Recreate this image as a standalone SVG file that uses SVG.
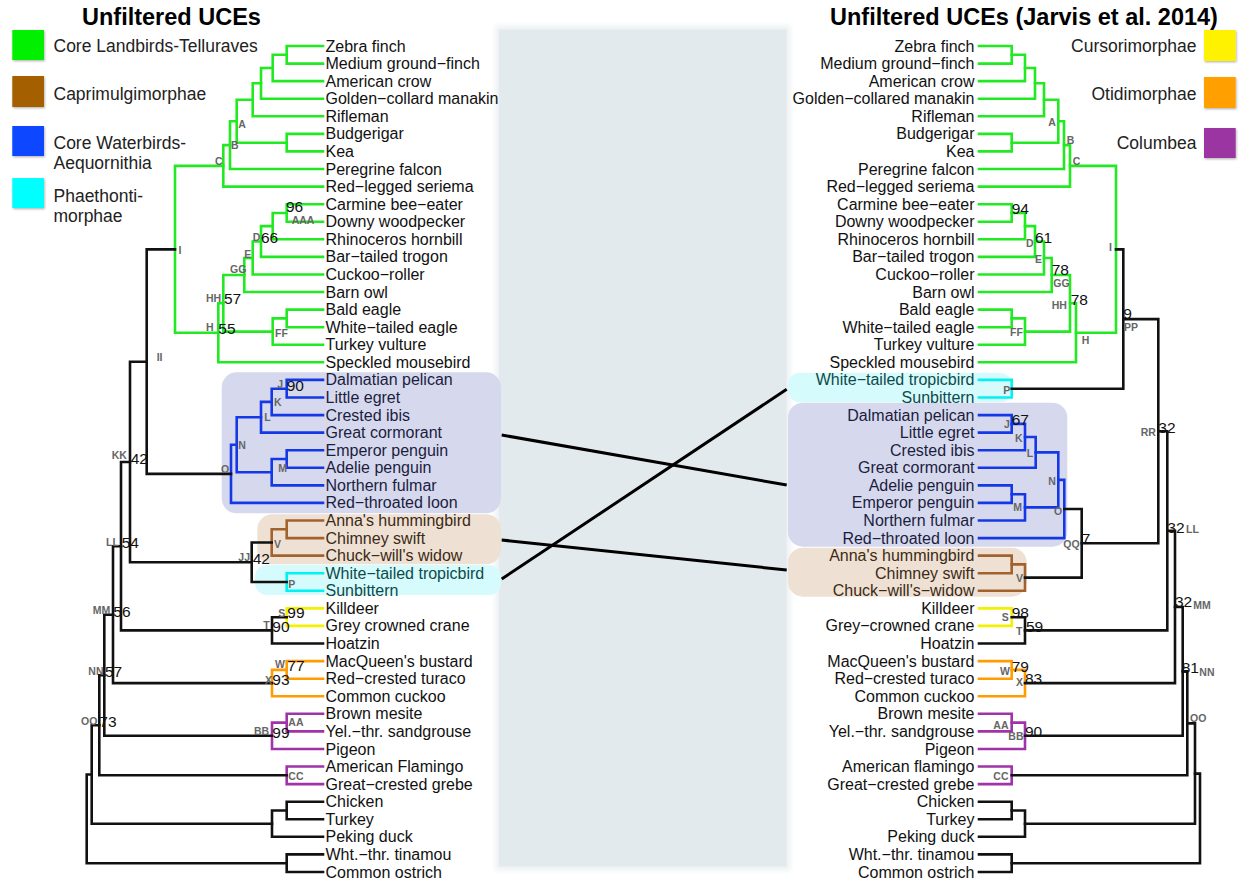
<svg xmlns="http://www.w3.org/2000/svg" width="1243" height="883" viewBox="0 0 1243 883">
  <defs>
    <filter id="shadow" x="-20%" y="-20%" width="150%" height="150%">
      <feDropShadow dx="0.8" dy="1.2" stdDeviation="1" flood-color="#000" flood-opacity="0.3"/>
    </filter>
    <filter id="halo" x="-5%" y="-5%" width="110%" height="110%">
      <feGaussianBlur stdDeviation="2.5"/>
    </filter>
  </defs>
  <style>
    .title { font: bold 23.5px "Liberation Sans", Arial, sans-serif; fill: #000; }
    .leg { font: 17.5px "Liberation Sans", Arial, sans-serif; fill: #222; }
    .lf { font: 16px "Liberation Sans", Arial, sans-serif; fill: #111; }
    .end { text-anchor: end; }
    .nl { font: bold 10.5px "Liberation Sans", Arial, sans-serif; fill: #666; }
    .bs { font: 15.5px "Liberation Sans", Arial, sans-serif; fill: #111; }
    .br { fill: none; stroke-width: 2.6; stroke-linejoin: miter; stroke-linecap: square; }
    .g { stroke: #22ea22; }
    .k { stroke: #111; }
    .b { stroke: #1438e6; }
    .bn { stroke: #a2622e; }
    .c { stroke: #00f2f2; }
    .y { stroke: #f2f200; }
    .o { stroke: #ff9c00; }
    .p { stroke: #a033a8; }
    .tc { fill: #0f4a4a; }
    .tb { fill: #1c1d3e; }
    .tn { fill: #3c2a16; }
    .conn { stroke: #000; stroke-width: 3; fill: none; }
  </style>

  <rect width="1243" height="883" fill="#fff"/>

  <!-- central panel between the two trees -->
  <g id="panel">
    <rect x="495" y="25.5" width="295.5" height="845" fill="#eef1f3" filter="url(#halo)"/>
    <rect x="499" y="29.5" width="287.5" height="837" fill="#e3eaed"/>
  </g>

  <!-- titles -->
  <text class="title" x="82" y="25">Unfiltered UCEs</text>
  <text class="title" x="830" y="25">Unfiltered UCEs (Jarvis et al. 2014)</text>

  <!-- legends -->
  <g id="legend-left">
    <rect x="12.3" y="30" width="31.7" height="30" fill="#00f000" filter="url(#shadow)"/>
    <rect x="12.3" y="76" width="31.7" height="31" fill="#a45f00" filter="url(#shadow)"/>
    <rect x="12.3" y="126" width="31.7" height="30" fill="#0747ff" filter="url(#shadow)"/>
    <rect x="12.3" y="178" width="31.7" height="30" fill="#00ffff" filter="url(#shadow)"/>
    <text class="leg" x="53.5" y="52">Core Landbirds-Telluraves</text>
    <text class="leg" x="53.5" y="99.5">Caprimulgimorphae</text>
    <text class="leg" x="53.5" y="148.5">Core Waterbirds-</text>
    <text class="leg" x="53.5" y="168.5">Aequornithia</text>
    <text class="leg" x="53.5" y="201.5">Phaethonti-</text>
    <text class="leg" x="53.5" y="222">morphae</text>
  </g>
  <g id="legend-right">
    <rect x="1204" y="30" width="31.7" height="31" fill="#fff200" filter="url(#shadow)"/>
    <rect x="1204" y="77" width="31.7" height="31" fill="#ffa000" filter="url(#shadow)"/>
    <rect x="1204" y="128" width="31.7" height="30" fill="#9b36a2" filter="url(#shadow)"/>
    <text class="leg end" x="1196.5" y="52">Cursorimorphae</text>
    <text class="leg end" x="1196.5" y="99.5">Otidimorphae</text>
    <text class="leg end" x="1196.5" y="149">Columbea</text>
  </g>

  <!-- clade highlight boxes -->
  <g id="boxes">
    <rect x="221.7" y="372.3" width="279.3" height="141" rx="15" fill="#d6d9ee"/>
    <rect x="257.3" y="514.3" width="243.7" height="50" rx="15" fill="#eee1d3"/>
    <rect x="255" y="565" width="246" height="30" rx="12" fill="#d6fbfd"/>
    <rect x="788" y="372.7" width="223.7" height="29.6" rx="12" fill="#d6fbfd"/>
    <rect x="788" y="402.7" width="279.3" height="144" rx="15" fill="#d6d9ee"/>
    <rect x="788" y="547.7" width="238.7" height="49" rx="15" fill="#eee1d3"/>
  </g>

  <!-- left tree -->
  <g id="left-tree">
    <g id="left-telluraves" class="br g">
      <path d="M323 46 H286.7 V63.6 H323"/>
      <path d="M286.7 54.8 H272.7 V81.1 H323"/>
      <path d="M272.7 68 H261 V98.7 H323"/>
      <path d="M261 83.3 H252.7 V116.3 H323"/>
      <path d="M323 133.9 H286.7 V151.4 H323"/>
      <path d="M252.7 99.8 H236.7 V142.7 H286.7"/>
      <path d="M236.7 121.2 H230 V169 H323"/>
      <path d="M230 145.1 H223.3 V186.6 H323"/>
      <path d="M323 204.2 H286.7 V221.7 H323"/>
      <path d="M286.7 213 H272.7 V239.3 H323"/>
      <path d="M272.7 226.1 H261 V256.9 H323"/>
      <path d="M261 241.5 H252.7 V274.5 H323"/>
      <path d="M252.7 258 H244.3 V292 H323"/>
      <path d="M323 309.6 H286.7 V327.2 H323"/>
      <path d="M286.7 318.4 H272.7 V344.8 H323"/>
      <path d="M244.3 275 H223.3 V331.6 H272.7"/>
      <path d="M223.3 303.3 H218.3 V362.3 H323"/>
      <path d="M223.3 165.9 H175 V332.8 H218.3"/>
    </g>
    <g id="left-aequornithia" class="br b">
      <path d="M323 379.9 H286.7 V397.5 H323"/>
      <path d="M286.7 388.7 H271.7 V415.1 H323"/>
      <path d="M271.7 401.9 H261 V432.6 H323"/>
      <path d="M323 450.2 H286.7 V467.8 H323"/>
      <path d="M286.7 459 H271.7 V485.4 H323"/>
      <path d="M261 417.3 H236.7 V472.2 H271.7"/>
      <path d="M236.7 444.8 H231 V502.9 H323"/>
    </g>
    <g id="left-caprimulgimorphae" class="br bn">
      <path d="M323 520.5 H286.7 V538.1 H323"/>
      <path d="M286.7 529.3 H271.7 V555.6 H323"/>
    </g>
    <g id="left-phaethontimorphae" class="br c">
      <path d="M323 573.2 H286.7 V590.8 H323"/>
    </g>
    <g id="left-cursorimorphae" class="br y">
      <path d="M323 608.4 H286.7 V625.9 H323"/>
    </g>
    <g id="left-otidimorphae" class="br o">
      <path d="M323 661.1 H286.7 V678.7 H323"/>
      <path d="M286.7 669.9 H272 V696.2 H323"/>
    </g>
    <g id="left-columbea" class="br p">
      <path d="M323 713.8 H286.7 V731.4 H323"/>
      <path d="M286.7 722.6 H272 V749 H323"/>
      <path d="M323 766.5 H286.7 V784.1 H323"/>
    </g>
    <g id="left-backbone" class="br k">
      <path d="M175 249.4 H146.7 V473.9 H231"/>
      <path d="M271.7 542.5 H251.7 V582 H286.7"/>
      <path d="M146.7 361.7 H130 V562.3 H251.7"/>
      <path d="M286.7 617.2 H272 V643.5 H323"/>
      <path d="M130 462 H121 V630.4 H272"/>
      <path d="M121 546.2 H113 V683.1 H272"/>
      <path d="M113 614.7 H104.3 V735.8 H272"/>
      <path d="M104.3 675.3 H99.3 V775.3 H286.7"/>
      <path d="M323 801.7 H286.7 V819.3 H323"/>
      <path d="M286.7 810.5 H272 V836.8 H323"/>
      <path d="M99.3 725.3 H91.7 V823.7 H272"/>
      <path d="M323 854.4 H286.7 V872 H323"/>
      <path d="M91.7 774.5 H86.7 V863.2 H286.7"/>
    </g>
    <g id="left-node-labels" class="nl">
      <text x="238.3" y="127.5">A</text>
      <text x="231" y="148.8">B</text>
      <text x="215" y="165">C</text>
      <text x="178.6" y="253.8">I</text>
      <text x="291.7" y="223.8">AAA</text>
      <text x="252.7" y="240.8">D</text>
      <text x="244.3" y="257.5">E</text>
      <text x="230" y="273">GG</text>
      <text x="206" y="302">HH</text>
      <text x="206" y="331">H</text>
      <text x="275" y="337">FF</text>
      <text x="156.7" y="360.5">II</text>
      <text x="277.3" y="387.6">J</text>
      <text x="274" y="406">K</text>
      <text x="264.3" y="421.3">L</text>
      <text x="238.3" y="449.3">N</text>
      <text x="278.3" y="472">M</text>
      <text x="221" y="473">O</text>
      <text x="111.7" y="459">KK</text>
      <text x="106" y="545.8">LL</text>
      <text x="238.3" y="560.8">JJ</text>
      <text x="274" y="547.5">V</text>
      <text x="288.3" y="587.5">P</text>
      <text x="92.7" y="613.8">MM</text>
      <text x="278.3" y="616.8">S</text>
      <text x="263.3" y="629.3">T</text>
      <text x="275" y="667.5">W</text>
      <text x="265" y="683.5">X</text>
      <text x="88.3" y="675.1">NN</text>
      <text x="288.3" y="726">AA</text>
      <text x="81" y="724.8">OO</text>
      <text x="254" y="735">BB</text>
      <text x="288.3" y="780">CC</text>
    </g>
    <g id="left-support" class="bs">
      <text x="286" y="212.2">96</text>
      <text x="261" y="242.7">66</text>
      <text x="224" y="304">57</text>
      <text x="218.3" y="334">55</text>
      <text x="286.7" y="390.7">90</text>
      <text x="130.7" y="464">42</text>
      <text x="121.7" y="548.3">54</text>
      <text x="252.7" y="564">42</text>
      <text x="113.3" y="616.7">56</text>
      <text x="287.3" y="618.3">99</text>
      <text x="272.3" y="632.3">90</text>
      <text x="287.3" y="671">77</text>
      <text x="272.3" y="685">93</text>
      <text x="105" y="677.3">57</text>
      <text x="99.3" y="727.3">73</text>
      <text x="272.3" y="738.3">99</text>
    </g>
    <g id="left-leaves" class="lf">
      <text x="325.5" y="51.5">Zebra finch</text>
      <text x="325.5" y="69.1">Medium ground−finch</text>
      <text x="325.5" y="86.6">American crow</text>
      <text x="325.5" y="104.2">Golden−collard manakin</text>
      <text x="325.5" y="121.8">Rifleman</text>
      <text x="325.5" y="139.4">Budgerigar</text>
      <text x="325.5" y="156.9">Kea</text>
      <text x="325.5" y="174.5">Peregrine falcon</text>
      <text x="325.5" y="192.1">Red−legged seriema</text>
      <text x="325.5" y="209.7">Carmine bee−eater</text>
      <text x="325.5" y="227.2">Downy woodpecker</text>
      <text x="325.5" y="244.8">Rhinoceros hornbill</text>
      <text x="325.5" y="262.4">Bar−tailed trogon</text>
      <text x="325.5" y="280">Cuckoo−roller</text>
      <text x="325.5" y="297.5">Barn owl</text>
      <text x="325.5" y="315.1">Bald eagle</text>
      <text x="325.5" y="332.7">White−tailed eagle</text>
      <text x="325.5" y="350.3">Turkey vulture</text>
      <text x="325.5" y="367.8">Speckled mousebird</text>
      <text class="tb" x="325.5" y="385.4">Dalmatian pelican</text>
      <text class="tb" x="325.5" y="403">Little egret</text>
      <text class="tb" x="325.5" y="420.6">Crested ibis</text>
      <text class="tb" x="325.5" y="438.1">Great cormorant</text>
      <text class="tb" x="325.5" y="455.7">Emperor penguin</text>
      <text class="tb" x="325.5" y="473.3">Adelie penguin</text>
      <text class="tb" x="325.5" y="490.9">Northern fulmar</text>
      <text class="tb" x="325.5" y="508.4">Red−throated loon</text>
      <text class="tn" x="325.5" y="526">Anna's hummingbird</text>
      <text class="tn" x="325.5" y="543.6">Chimney swift</text>
      <text class="tn" x="325.5" y="561.1">Chuck−will's widow</text>
      <text class="tc" x="325.5" y="578.7">White−tailed tropicbird</text>
      <text class="tc" x="325.5" y="596.3">Sunbittern</text>
      <text x="325.5" y="613.9">Killdeer</text>
      <text x="325.5" y="631.4">Grey crowned crane</text>
      <text x="325.5" y="649">Hoatzin</text>
      <text x="325.5" y="666.6">MacQueen's bustard</text>
      <text x="325.5" y="684.2">Red−crested turaco</text>
      <text x="325.5" y="701.7">Common cuckoo</text>
      <text x="325.5" y="719.3">Brown mesite</text>
      <text x="325.5" y="736.9">Yel.−thr. sandgrouse</text>
      <text x="325.5" y="754.5">Pigeon</text>
      <text x="325.5" y="772">American Flamingo</text>
      <text x="325.5" y="789.6">Great−crested grebe</text>
      <text x="325.5" y="807.2">Chicken</text>
      <text x="325.5" y="824.8">Turkey</text>
      <text x="325.5" y="842.3">Peking duck</text>
      <text x="325.5" y="859.9">Wht.−thr. tinamou</text>
      <text x="325.5" y="877.5">Common ostrich</text>
    </g>
  </g>

  <!-- right tree -->
  <g id="right-tree">
    <g id="right-telluraves" class="br g">
      <path d="M979 46 H1011.7 V63.6 H979"/>
      <path d="M1011.7 54.8 H1025 V81.1 H979"/>
      <path d="M1025 68 H1035 V98.7 H979"/>
      <path d="M1035 83.3 H1044 V116.3 H979"/>
      <path d="M979 133.9 H1011.7 V151.4 H979"/>
      <path d="M1044 99.8 H1058.3 V142.7 H1011.7"/>
      <path d="M1058.3 121.2 H1064 V169 H979"/>
      <path d="M1064 145.1 H1070 V186.6 H979"/>
      <path d="M979 204.2 H1011.7 V221.7 H979"/>
      <path d="M1011.7 213 H1025 V239.3 H979"/>
      <path d="M1025 226.1 H1035 V256.9 H979"/>
      <path d="M1035 241.5 H1044 V274.5 H979"/>
      <path d="M1044 258 H1051.7 V292 H979"/>
      <path d="M979 309.6 H1011.7 V327.2 H979"/>
      <path d="M1011.7 318.4 H1025 V344.8 H979"/>
      <path d="M1051.7 275 H1070 V331.6 H1025"/>
      <path d="M1070 303.3 H1076 V362.3 H979"/>
      <path d="M1070 165.9 H1116 V332.8 H1076"/>
    </g>
    <g id="right-phaethontimorphae" class="br c">
      <path d="M979 379.9 H1011.7 V397.5 H979"/>
    </g>
    <g id="right-aequornithia" class="br b">
      <path d="M979 415.1 H1011.7 V432.6 H979"/>
      <path d="M1011.7 423.9 H1025 V450.2 H979"/>
      <path d="M1025 437 H1035.7 V467.8 H979"/>
      <path d="M979 485.4 H1011.7 V502.9 H979"/>
      <path d="M1011.7 494.2 H1025 V520.5 H979"/>
      <path d="M1035.7 452.4 H1058.3 V507.4 H1025"/>
      <path d="M1058.3 479.9 H1064.3 V538.1 H979"/>
    </g>
    <g id="right-caprimulgimorphae" class="br bn">
      <path d="M979 555.6 H1011.7 V573.2 H979"/>
      <path d="M1011.7 564.4 H1025 V590.8 H979"/>
    </g>
    <g id="right-cursorimorphae" class="br y">
      <path d="M979 608.4 H1011.7 V625.9 H979"/>
    </g>
    <g id="right-otidimorphae" class="br o">
      <path d="M979 661.1 H1011.7 V678.7 H979"/>
      <path d="M1011.7 669.9 H1025 V696.2 H979"/>
    </g>
    <g id="right-columbea" class="br p">
      <path d="M979 713.8 H1011.7 V731.4 H979"/>
      <path d="M1011.7 722.6 H1025 V749 H979"/>
      <path d="M979 766.5 H1011.7 V784.1 H979"/>
    </g>
    <g id="right-backbone" class="br k">
      <path d="M1116 249.4 H1123.3 V388.7 H1011.7"/>
      <path d="M1064.3 509 H1081.7 V577.6 H1025"/>
      <path d="M1123.3 319.1 H1158.3 V543.3 H1081.7"/>
      <path d="M1011.7 617.2 H1025 V643.5 H979"/>
      <path d="M1158.3 431.2 H1167.3 V630.4 H1025"/>
      <path d="M1167.3 530.8 H1175 V683.1 H1025"/>
      <path d="M1175 607 H1182.7 V735.8 H1025"/>
      <path d="M1182.7 671.4 H1187.3 V775.3 H1011.7"/>
      <path d="M979 801.7 H1011.7 V819.3 H979"/>
      <path d="M1011.7 810.5 H1025 V836.8 H979"/>
      <path d="M1187.3 723.4 H1195 V823.7 H1025"/>
      <path d="M979 854.4 H1011.7 V872 H979"/>
      <path d="M1195 773.6 H1200 V863.2 H1011.7"/>
    </g>
    <g id="right-node-labels" class="nl">
      <text x="1048.3" y="125.5">A</text>
      <text x="1066.7" y="144">B</text>
      <text x="1072.7" y="164.8">C</text>
      <text x="1026" y="246.5">D</text>
      <text x="1035" y="262.5">E</text>
      <text x="1053.3" y="287">GG</text>
      <text x="1051.7" y="308.5">HH</text>
      <text x="1010" y="335.8">FF</text>
      <text x="1081.7" y="344">H</text>
      <text x="1109" y="251.3">I</text>
      <text x="1124" y="331">PP</text>
      <text x="1003.3" y="394">P</text>
      <text x="1004" y="427.5">J</text>
      <text x="1015" y="441.6">K</text>
      <text x="1026.7" y="456.6">L</text>
      <text x="1048.3" y="485">N</text>
      <text x="1013.3" y="511.3">M</text>
      <text x="1054" y="515">O</text>
      <text x="1063.3" y="548">QQ</text>
      <text x="1016" y="581.6">V</text>
      <text x="1140.7" y="436">RR</text>
      <text x="1186" y="532.5">LL</text>
      <text x="1001.7" y="620.8">S</text>
      <text x="1016" y="635">T</text>
      <text x="1193.3" y="608.5">MM</text>
      <text x="1000" y="675">W</text>
      <text x="1016" y="686">X</text>
      <text x="1199.3" y="675.8">NN</text>
      <text x="1190" y="721.8">OO</text>
      <text x="993.3" y="728.5">AA</text>
      <text x="1008.3" y="740.1">BB</text>
      <text x="993.3" y="780.1">CC</text>
    </g>
    <g id="right-support" class="bs">
      <text x="1011.7" y="214">94</text>
      <text x="1035" y="242.7">61</text>
      <text x="1051.7" y="275.3">78</text>
      <text x="1070.7" y="305">78</text>
      <text x="1123.3" y="318.6">9</text>
      <text x="1011.7" y="425">67</text>
      <text x="1081.7" y="544.3">7</text>
      <text x="1158.3" y="433.3">32</text>
      <text x="1167.3" y="532.7">32</text>
      <text x="1011.7" y="618.3">98</text>
      <text x="1026" y="631.7">59</text>
      <text x="1175" y="606.7">32</text>
      <text x="1011.7" y="671.7">79</text>
      <text x="1025" y="684.3">83</text>
      <text x="1181.7" y="672.7">81</text>
      <text x="1025" y="737.3">90</text>
    </g>
    <g id="right-leaves" class="lf end">
      <text x="974.5" y="51.5">Zebra finch</text>
      <text x="974.5" y="69.1">Medium ground−finch</text>
      <text x="974.5" y="86.6">American crow</text>
      <text x="974.5" y="104.2">Golden−collared manakin</text>
      <text x="974.5" y="121.8">Rifleman</text>
      <text x="974.5" y="139.4">Budgerigar</text>
      <text x="974.5" y="156.9">Kea</text>
      <text x="974.5" y="174.5">Peregrine falcon</text>
      <text x="974.5" y="192.1">Red−legged seriema</text>
      <text x="974.5" y="209.7">Carmine bee−eater</text>
      <text x="974.5" y="227.2">Downy woodpecker</text>
      <text x="974.5" y="244.8">Rhinoceros hornbill</text>
      <text x="974.5" y="262.4">Bar−tailed trogon</text>
      <text x="974.5" y="280">Cuckoo−roller</text>
      <text x="974.5" y="297.5">Barn owl</text>
      <text x="974.5" y="315.1">Bald eagle</text>
      <text x="974.5" y="332.7">White−tailed eagle</text>
      <text x="974.5" y="350.3">Turkey vulture</text>
      <text x="974.5" y="367.8">Speckled mousebird</text>
      <text class="tc" x="974.5" y="385.4">White−tailed tropicbird</text>
      <text class="tc" x="974.5" y="403">Sunbittern</text>
      <text class="tb" x="974.5" y="420.6">Dalmatian pelican</text>
      <text class="tb" x="974.5" y="438.1">Little egret</text>
      <text class="tb" x="974.5" y="455.7">Crested ibis</text>
      <text class="tb" x="974.5" y="473.3">Great cormorant</text>
      <text class="tb" x="974.5" y="490.9">Adelie penguin</text>
      <text class="tb" x="974.5" y="508.4">Emperor penguin</text>
      <text class="tb" x="974.5" y="526">Northern fulmar</text>
      <text class="tb" x="974.5" y="543.6">Red−throated loon</text>
      <text class="tn" x="974.5" y="561.1">Anna's hummingbird</text>
      <text class="tn" x="974.5" y="578.7">Chimney swift</text>
      <text class="tn" x="974.5" y="596.3">Chuck−will's−widow</text>
      <text x="974.5" y="613.9">Killdeer</text>
      <text x="974.5" y="631.4">Grey−crowned crane</text>
      <text x="974.5" y="649">Hoatzin</text>
      <text x="974.5" y="666.6">MacQueen's bustard</text>
      <text x="974.5" y="684.2">Red−crested turaco</text>
      <text x="974.5" y="701.7">Common cuckoo</text>
      <text x="974.5" y="719.3">Brown mesite</text>
      <text x="974.5" y="736.9">Yel.−thr. sandgrouse</text>
      <text x="974.5" y="754.5">Pigeon</text>
      <text x="974.5" y="772">American flamingo</text>
      <text x="974.5" y="789.6">Great−crested grebe</text>
      <text x="974.5" y="807.2">Chicken</text>
      <text x="974.5" y="824.8">Turkey</text>
      <text x="974.5" y="842.3">Peking duck</text>
      <text x="974.5" y="859.9">Wht.−thr. tinamou</text>
      <text x="974.5" y="877.5">Common ostrich</text>
    </g>
  </g>

  <!-- links between the positions of moved clades -->
  <g id="connectors" class="conn">
    <path d="M501.7 435 L786.7 485"/>
    <path d="M501.7 540 L786.7 570"/>
    <path d="M501.7 579 L786.7 389.3"/>
  </g>
</svg>
